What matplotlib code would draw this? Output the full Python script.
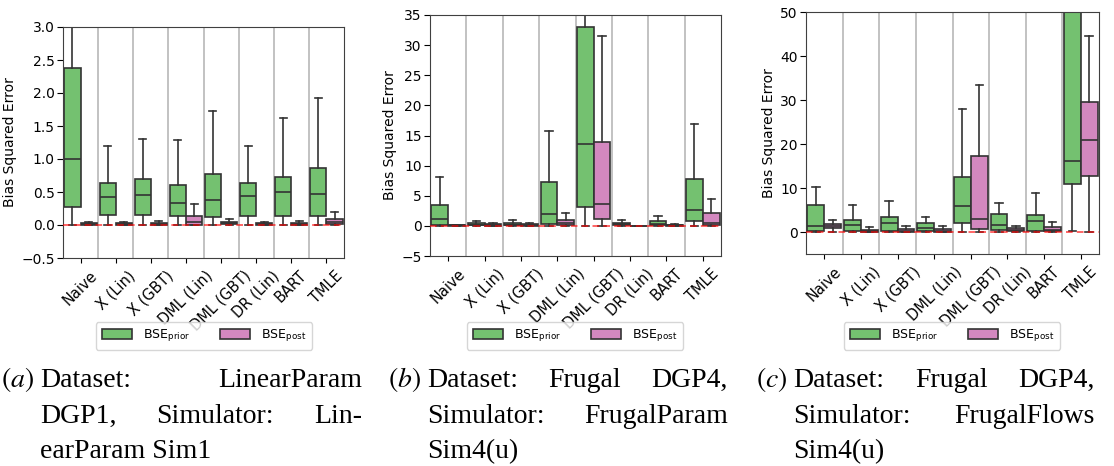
import matplotlib
matplotlib.use("Agg")
import matplotlib.pyplot as plt
from matplotlib.patches import Patch

methods = ["Naive", "X (Lin)", "X (GBT)", "DML (Lin)", "DML (GBT)", "DR (Lin)", "BART", "TMLE"]

# box stats per method: (whisker low, q1, median, q3, whisker high)
a_prior = [(0, 0.28, 1.0, 2.38, 3.6), (0, 0.15, 0.43, 0.64, 1.19), (0, 0.15, 0.46, 0.70, 1.30),
           (0, 0.13, 0.34, 0.61, 1.29), (0, 0.12, 0.38, 0.78, 1.72), (0, 0.14, 0.44, 0.64, 1.20),
           (0, 0.13, 0.50, 0.73, 1.62), (0, 0.14, 0.47, 0.87, 1.93)]
a_post = [(0, 0.005, 0.015, 0.025, 0.04), (0, 0.005, 0.015, 0.03, 0.045), (0, 0.005, 0.02, 0.035, 0.065),
          (0, 0.005, 0.05, 0.14, 0.32), (0, 0.01, 0.03, 0.05, 0.09), (0, 0.005, 0.015, 0.03, 0.045),
          (0, 0.005, 0.02, 0.035, 0.065), (0, 0.01, 0.05, 0.09, 0.20)]

b_prior = [(0, 0.2, 1.1, 3.5, 8.1), (0, 0.1, 0.2, 0.4, 0.8), (0, 0.1, 0.2, 0.45, 1.0),
           (0, 0.35, 1.9, 7.2, 15.8), (0, 3.2, 13.6, 33.0, 45), (0, 0.1, 0.25, 0.45, 1.0),
           (0, 0.1, 0.35, 0.75, 1.7), (0, 0.8, 2.6, 7.7, 16.9)]
b_post = [(0, 0.03, 0.08, 0.12, 0.2), (0, 0.05, 0.2, 0.3, 0.55), (0, 0.05, 0.15, 0.3, 0.4),
          (0, 0.1, 0.45, 1.05, 2.1), (0, 1.1, 3.7, 13.9, 31.5), (0, 0.005, 0.01, 0.02, 0.04),
          (0, 0.03, 0.08, 0.15, 0.3), (0, 0.1, 0.4, 2.1, 4.4)]

c_prior = [(0, 0.2, 1.3, 6.1, 10.2), (0, 0.2, 1.5, 2.7, 6.1), (0, 0.3, 2.0, 3.5, 7.1),
           (0, 0.3, 1.0, 2.0, 3.3), (0, 2.0, 5.9, 12.5, 28.0), (0, 0.5, 1.7, 4.2, 6.5),
           (0, 0.3, 2.4, 3.9, 8.8), (0.3, 10.9, 16.1, 58, 75)]
c_post = [(0, 0.8, 1.3, 1.9, 2.7), (0, 0.1, 0.3, 0.5, 1.1), (0, 0.1, 0.3, 0.6, 1.3),
          (0, 0.1, 0.3, 0.6, 1.3), (0, 0.7, 3.0, 17.2, 33.5), (0, 0.2, 0.5, 0.8, 1.4),
          (0, 0.2, 0.5, 1.1, 2.2), (0, 12.8, 21.0, 29.5, 44.6)]

a_ylim, a_ticks = (-0.5, 3.0), [-0.5, 0, 0.5, 1.0, 1.5, 2.0, 2.5, 3.0]
b_ylim, b_ticks = (-5, 35), [-5, 0, 5, 10, 15, 20, 25, 30, 35]
c_ylim, c_ticks = (-5, 50), [0, 10, 20, 30, 40, 50]

a_caption = [["Dataset:", "LinearParam"], ["DGP1,", "Simulator:", "Lin-"], ["earParam Sim1"]]
b_caption = [["Dataset:", "Frugal", "DGP4,"], ["Simulator:", "FrugalParam"], ["Sim4(u)"]]
c_caption = [["Dataset:", "Frugal", "DGP4,"], ["Simulator:", "FrugalFlows"], ["Sim4(u)"]]

GREEN = "#74c170"
PINK = "#d388bf"
EDGE = "0.2"

plt.rcParams["mathtext.fontset"] = "stix"

W, H = 1114, 466
fig = plt.figure(figsize=(W / 100, H / 100), dpi=100)


def px_axes(l, t, r, b):
    return fig.add_axes([l / W, 1 - b / H, (r - l) / W, (b - t) / H])


def to_stats(rows):
    return [dict(whislo=r[0], q1=r[1], med=r[2], q3=r[3], whishi=r[4], fliers=[]) for r in rows]


def draw_panel(ax, prior, post, ylim, ticks):
    n = len(methods)
    for rows, off, col in [(prior, -0.23, GREEN), (post, 0.23, PINK)]:
        pos = [i + off for i in range(n)]
        ax.bxp(to_stats(rows), positions=pos, widths=0.46, showfliers=False,
               patch_artist=True, manage_ticks=False, capwidths=0.2,
               boxprops=dict(facecolor=col, edgecolor=EDGE, linewidth=1.2),
               medianprops=dict(color=EDGE, linewidth=1.2),
               whiskerprops=dict(color=EDGE, linewidth=1.2),
               capprops=dict(color=EDGE, linewidth=1.2))
    for i in range(n - 1):
        ax.axvline(i + 0.5, color="#b8b8b8", linewidth=1.2, zorder=0)
    ax.axhline(0, color="red", linestyle=(0, (4, 2.5)), linewidth=1.2, alpha=0.7, zorder=3)
    ax.set_xlim(-0.5, n - 0.5)
    ax.set_ylim(*ylim)
    ax.set_yticks(ticks)
    ax.set_xticks(range(n))
    ax.set_xticklabels(methods, rotation=45, fontsize=10.5)
    ax.tick_params(axis="y", labelsize=10, pad=2, length=4)
    ax.set_ylabel("Bias Squared Error", fontsize=10, labelpad=3)
    for s in ax.spines.values():
        s.set_color("0.25")


ax_a = px_axes(63, 27, 344, 258)
ax_b = px_axes(430, 15, 721, 256)
ax_c = px_axes(806, 12, 1099, 254)
draw_panel(ax_a, a_prior, a_post, a_ylim, a_ticks)
draw_panel(ax_b, b_prior, b_post, b_ylim, b_ticks)
draw_panel(ax_c, c_prior, c_post, c_ylim, c_ticks)

handles = [Patch(facecolor=GREEN, edgecolor=EDGE, linewidth=1.2),
           Patch(facecolor=PINK, edgecolor=EDGE, linewidth=1.2)]
labels = [r"BSE$_\mathregular{prior}$", r"BSE$_\mathregular{post}$"]
for ax, cx in [(ax_a, 204), (ax_b, 575), (ax_c, 952)]:
    ax.legend(handles, labels, loc="upper center", bbox_to_anchor=(cx / W, 1 - 322 / H),
              bbox_transform=fig.transFigure, borderaxespad=0, ncol=2, fontsize=9,
              handlelength=2.4, handleheight=0.8, handletextpad=0.9, columnspacing=2.4,
              borderpad=0.45, frameon=True)

# captions, justified word by word like the LaTeX subfigure captions
cap_kw = dict(family="Liberation Serif", fontsize=20, va="baseline")
baselines = [387, 423, 458]
renderer = fig.canvas.get_renderer()


def caption(tag, lines, x0, x1):
    fig.text((x0 - 6) / W, 1 - baselines[0] / H, tag, ha="right", **cap_kw)
    for k, words in enumerate(lines):
        y = 1 - baselines[k] / H
        texts = [fig.text(0, y, w, ha="left", **cap_kw) for w in words]
        if len(texts) == 1:
            texts[0].set_x(x0 / W)
            continue
        widths = [t.get_window_extent(renderer).width for t in texts]
        gap = (x1 - x0 - sum(widths)) / (len(texts) - 1)
        x = x0
        for t, w in zip(texts, widths):
            t.set_x(x / W)
            x += w + gap


caption(r"$(a)$", a_caption, 40, 362)
caption(r"$(b)$", b_caption, 427, 728)
caption(r"$(c)$", c_caption, 793, 1095)

fig.savefig("out.png", dpi=100)
